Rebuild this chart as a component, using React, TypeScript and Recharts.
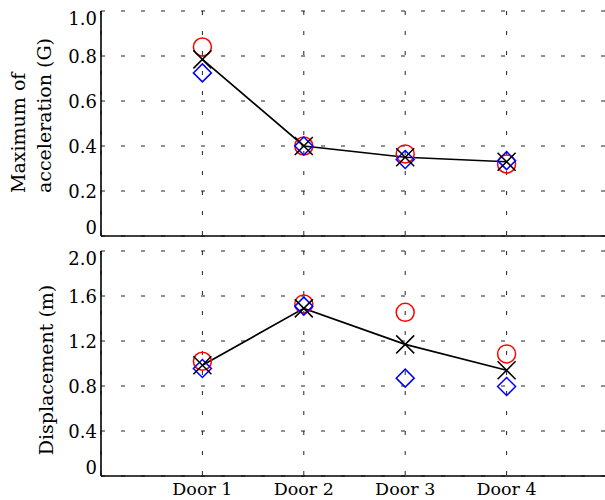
import { ComposedChart, Line, XAxis, YAxis, CartesianGrid } from 'recharts'

// ─── data ───────────────────────────────────────────────
const DOORS = ['Door 1', 'Door 2', 'Door 3', 'Door 4']

const ACC_TICKS = [0, 0.2, 0.4, 0.6, 0.8, 1.0]
const ACC_CIRCLE = [0.84, 0.40, 0.365, 0.32]
const ACC_DIAMOND = [0.725, 0.40, 0.34, 0.335]
const ACC_CROSS = [0.785, 0.40, 0.35, 0.33]

const DISP_TICKS = [0, 0.4, 0.8, 1.2, 1.6, 2.0]
const DISP_CIRCLE = [1.02, 1.53, 1.455, 1.085]
const DISP_DIAMOND = [0.955, 1.51, 0.87, 0.795]
const DISP_CROSS = [0.985, 1.49, 1.17, 0.94]

const X_TICKS = [1, 2, 3, 4]
const X_DOMAIN: [number, number] = [0, 5]

const FONT = '"DejaVu Serif", serif'

const rows = (circle: number[], diamond: number[], cross: number[]) =>
  DOORS.map((_, i) => ({ x: i + 1, circle: circle[i], diamond: diamond[i], cross: cross[i] }))

const accData = rows(ACC_CIRCLE, ACC_DIAMOND, ACC_CROSS)
const dispData = rows(DISP_CIRCLE, DISP_DIAMOND, DISP_CROSS)

// ─── markers ────────────────────────────────────────────
const M = 9

const circleDot = (p: any) => (
  <circle key={`c-${p.index}`} cx={p.cx} cy={p.cy} r={M} fill="none" stroke="#ff0000" strokeWidth={1.5} />
)

const diamondDot = (p: any) => (
  <path key={`d-${p.index}`}
    d={`M${p.cx},${p.cy - M}L${p.cx + M},${p.cy}L${p.cx},${p.cy + M}L${p.cx - M},${p.cy}Z`}
    fill="none" stroke="#0000ff" strokeWidth={1.5} />
)

const crossDot = (p: any) => (
  <path key={`x-${p.index}`}
    d={`M${p.cx - M},${p.cy - M}L${p.cx + M},${p.cy + M}M${p.cx - M},${p.cy + M}L${p.cx + M},${p.cy - M}`}
    fill="none" stroke="#000" strokeWidth={1.5} />
)

// ─── ticks ──────────────────────────────────────────────
const makeYTick = (ticks: number[], fmt: (v: number) => string) => (props: any) => {
  const { x, y, payload } = props
  const i = ticks.indexOf(payload.value)
  const shift = i === 0 ? -8 : i === ticks.length - 1 ? 8 : 1
  return (
    <text x={x} y={y + shift} dy="0.36em" textAnchor="end" fontFamily={FONT} fontSize={18} fill="#000">
      {fmt(payload.value)}
    </text>
  )
}

const fmtTick = (v: number) => (v === 0 ? '0' : v.toFixed(1))

const DoorTick = (props: any) => {
  const { x, y, payload } = props
  return (
    <text x={x} y={y} dy={13} textAnchor="middle" fontFamily={FONT} fontSize={17.5} fill="#000">
      {DOORS[payload.value - 1]}
    </text>
  )
}

// top panel keeps its x ticks (for the grid) but draws no labels
const EmptyTick = () => <g />

// ─── panel ──────────────────────────────────────────────
interface PanelProps {
  data: { x: number; circle: number; diamond: number; cross: number }[]
  ticks: number[]
  height: number
  showDoors?: boolean
}

function Panel({ data, ticks, height, showDoors }: PanelProps) {
  return (
    <ComposedChart width={612} height={height} data={data} margin={{ top: 11, right: 4, left: 0, bottom: 0 }}>
      <CartesianGrid stroke="#222" strokeDasharray="4 16" />
      <XAxis dataKey="x" type="number" domain={X_DOMAIN} ticks={X_TICKS} height={showDoors ? 24 : 4}
        axisLine={{ stroke: '#000', strokeWidth: 1.6 }} tickLine={false} tickSize={0} tickMargin={6}
        tick={showDoors ? DoorTick : EmptyTick} interval={0} />
      <XAxis xAxisId="top" orientation="top" dataKey="x" type="number" domain={X_DOMAIN} height={0}
        axisLine={{ stroke: '#000', strokeWidth: 1.6 }} tickLine={false} tick={false} />
      <YAxis type="number" domain={[ticks[0], ticks[ticks.length - 1]]} ticks={ticks} width={101}
        axisLine={{ stroke: '#000', strokeWidth: 1.6 }} tickLine={false} tickSize={0} tickMargin={4}
        tick={makeYTick(ticks, fmtTick)} interval={0} />
      <Line dataKey="circle" stroke="none" dot={circleDot} activeDot={false} isAnimationActive={false} />
      <Line dataKey="diamond" stroke="none" dot={diamondDot} activeDot={false} isAnimationActive={false} />
      <Line dataKey="cross" type="linear" stroke="#000" strokeWidth={1.7} dot={crossDot}
        activeDot={false} isAnimationActive={false} />
    </ComposedChart>
  )
}

export default function App() {
  return (
    <div style={{ position: 'absolute', left: 0, top: 0, width: 605, height: 500, overflow: 'hidden', background: '#fff' }}>
      <div style={{ position: 'absolute', left: 0, top: 0 }}>
        <Panel data={accData} ticks={ACC_TICKS} height={240} />
      </div>
      <div style={{ position: 'absolute', left: 0, top: 240 }}>
        <Panel data={dispData} ticks={DISP_TICKS} height={260} showDoors />
      </div>
      <svg width={605} height={500} style={{ position: 'absolute', left: 0, top: 0, pointerEvents: 'none' }}>
        <g fontFamily={FONT} fontSize={19} fill="#000">
          <text x={25} y={193} transform="rotate(-90 25 193)" textAnchor="start">Maximum of</text>
          <text x={51} y={193} transform="rotate(-90 51 193)" textAnchor="start">acceleration (G)</text>
          <text x={53} y={370} transform="rotate(-90 53 370)" textAnchor="middle">Displacement (m)</text>
        </g>
      </svg>
    </div>
  )
}
